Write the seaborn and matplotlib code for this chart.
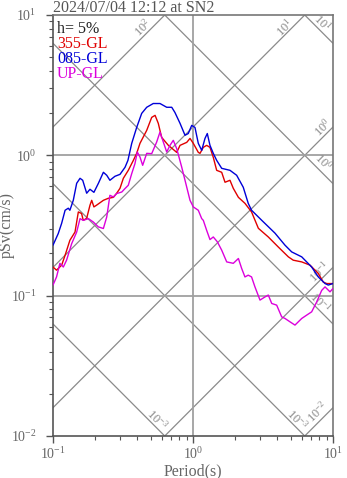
import numpy as np
import pandas as pd
import matplotlib
matplotlib.use("Agg")
import matplotlib.pyplot as plt
import seaborn as sns
from matplotlib.ticker import LogLocator, NullFormatter

# Pseudo-velocity response spectra (h = 5 %), period in s, pSv in cm/s
period_355 = [0.100, 0.106, 0.1153, 0.122, 0.132, 0.1436, 0.1517, 0.160, 0.1645, 0.174,
              0.1837, 0.189, 0.196, 0.2045, 0.229, 0.248, 0.270, 0.285, 0.301, 0.318,
              0.345, 0.375, 0.396, 0.418, 0.467, 0.507, 0.536, 0.565, 0.597, 0.667,
              0.765, 0.808, 0.902, 0.952, 1.005, 1.091, 1.122, 1.185, 1.252, 1.322,
              1.396, 1.476, 1.603, 1.693, 1.837, 1.94, 2.11, 2.35, 2.62, 2.93,
              3.45, 4.07, 4.80, 5.20, 5.98, 6.85, 7.85, 8.52, 9.02, 10.0]
psv_355 = [0.160, 0.152, 0.165, 0.194, 0.248, 0.284, 0.395, 0.385, 0.344, 0.356,
           0.441, 0.478, 0.429, 0.441, 0.478, 0.494, 0.502, 0.537, 0.582, 0.686,
           0.782, 0.921, 1.033, 1.217, 1.506, 1.864, 1.927, 1.69, 1.343, 1.178,
           1.05, 1.178, 1.237, 1.32, 1.217, 1.05, 1.033, 1.14, 1.178, 1.14,
           0.968, 0.782, 0.757, 0.643, 0.664, 0.582, 0.502, 0.455, 0.395, 0.302,
           0.262, 0.222, 0.189, 0.179, 0.174, 0.165, 0.144, 0.125, 0.122, 0.122]

period_085 = [0.100, 0.109, 0.1153, 0.122, 0.1286, 0.132, 0.1396, 0.1476, 0.156, 0.163,
              0.174, 0.1837, 0.196, 0.211, 0.229, 0.242, 0.255, 0.277, 0.301, 0.327,
              0.343, 0.365, 0.396, 0.430, 0.467, 0.520, 0.581, 0.649, 0.705, 0.743,
              0.808, 0.877, 0.925, 0.979, 1.033, 1.091, 1.154, 1.218, 1.265, 1.322,
              1.396, 1.476, 1.603, 1.837, 2.05, 2.286, 2.48, 2.62, 3.10, 3.85,
              4.54, 5.07, 5.98, 7.04, 7.85, 8.77, 9.25, 10.0]
psv_085 = [0.229, 0.277, 0.328, 0.406, 0.420, 0.406, 0.478, 0.632, 0.686, 0.664,
           0.537, 0.573, 0.545, 0.632, 0.757, 0.721, 0.664, 0.709, 0.732, 0.822,
           0.921, 1.217, 1.58, 1.99, 2.20, 2.34, 2.34, 2.20, 2.20, 2.02,
           1.69, 1.39, 1.43, 1.635, 1.58, 1.217, 1.085, 1.32, 1.43, 1.178,
           1.033, 0.921, 0.808, 0.782, 0.721, 0.592, 0.455, 0.406, 0.344, 0.279,
           0.229, 0.205, 0.189, 0.160, 0.136, 0.122, 0.119, 0.122]

period_up = [0.100, 0.106, 0.112, 0.1185, 0.125, 0.136, 0.1476, 0.156, 0.1645, 0.179,
             0.194, 0.211, 0.229, 0.242, 0.248, 0.255, 0.270, 0.285, 0.310, 0.327,
             0.345, 0.365, 0.385, 0.400, 0.418, 0.437, 0.467, 0.507, 0.550, 0.581,
             0.614, 0.649, 0.685, 0.723, 0.765, 0.830, 0.877, 0.952, 1.005, 1.091,
             1.154, 1.185, 1.252, 1.322, 1.396, 1.492, 1.603, 1.741, 1.94, 2.11,
             2.228, 2.35, 2.48, 2.62, 2.77, 3.01, 3.27, 3.45, 3.65, 3.96,
             4.30, 4.54, 4.93, 5.35, 5.98, 6.49, 7.04, 7.65, 8.30, 8.77,
             9.52, 10.0]
psv_up = [0.119, 0.136, 0.170, 0.160, 0.179, 0.235, 0.284, 0.354, 0.344, 0.354,
          0.335, 0.309, 0.301, 0.364, 0.429, 0.519, 0.505, 0.534, 0.548, 0.580,
          0.612, 0.741, 0.873, 1.056, 0.973, 0.849, 1.033, 1.028, 1.243, 1.465,
          1.243, 1.056, 1.178, 1.279, 1.116, 0.826, 0.664, 0.478, 0.429, 0.406,
          0.354, 0.344, 0.292, 0.251, 0.262, 0.242, 0.211, 0.174, 0.170, 0.184,
          0.156, 0.136, 0.140, 0.136, 0.1155, 0.093, 0.098, 0.101, 0.088, 0.0856,
          0.0706, 0.0688, 0.0651, 0.0617, 0.0688, 0.0727, 0.0767, 0.0903, 0.109, 0.1155,
          0.1065, 0.1125]

components = ["355-GL", "085-GL", "UP-GL"]
comp_colors = ["#e00000", "#0000d8", "#dc00dc"]

# Tripartite guide lines: acceleration (cm/s^2) and displacement (cm)
sa_levels = [1e-2, 1e-1, 1e0, 1e1, 1e2]
sd_levels = [1e-3, 1e-2, 1e-1, 1e0, 1e1]

# Guide-line labels: (text, period, pSv, rotation)
guide_labels = [
    (r"$\mathdefault{10^{2}}$", 0.44, 8.15, 45),
    (r"$\mathdefault{10^{1}}$", 4.54, 8.15, 45),
    (r"$\mathdefault{10^{1}}$", 8.34, 8.85, -45),
    (r"$\mathdefault{10^{0}}$", 8.5, 1.58, 45),
    (r"$\mathdefault{10^{0}}$", 8.5, 0.892, -45),
    (r"$\mathdefault{10^{-1}}$", 8.07, 0.147, 45),
    (r"$\mathdefault{10^{-1}}$", 8.07, 0.090, -45),
    (r"$\mathdefault{10^{-3}}$", 0.553, 0.013, -45),
    (r"$\mathdefault{10^{-3}}$", 5.53, 0.013, -45),
    (r"$\mathdefault{10^{-2}}$", 7.81, 0.0148, 45),
]

sns.set_theme(style="white")
plt.rcParams["font.family"] = ["Liberation Serif", "DejaVu Serif"]
plt.rcParams["mathtext.fontset"] = "custom"
plt.rcParams["mathtext.rm"] = "Liberation Serif"
plt.rcParams["mathtext.it"] = "Liberation Serif:italic"
plt.rcParams["mathtext.bf"] = "Liberation Serif:bold"

W, H = 347, 478
fig = plt.figure(figsize=(W / 100, H / 100), dpi=100)
ax = fig.add_axes([53 / W, 42 / H, 280 / W, 421 / H])
ax.set_xscale("log")
ax.set_yscale("log")
ax.set_xlim(0.1, 10)
ax.set_ylim(0.01, 10)

guide_color = "#8a8a8a"
tt = np.array([0.1, 10.0])
for sa in sa_levels:
    ax.plot(tt, sa * tt / (2 * np.pi), color=guide_color, lw=0.9, zorder=1)
for sd in sd_levels:
    ax.plot(tt, 2 * np.pi * sd / tt, color=guide_color, lw=0.9, zorder=1)

# Main grid lines
for yv in [1.0, 0.1]:
    ax.axhline(yv, color="#a0a0a0", lw=1.3, zorder=1)
ax.axvline(1.0, color="#a0a0a0", lw=1.3, zorder=1)

for txt, tx, ty, rot in guide_labels:
    ax.text(tx, ty, txt, rotation=rot, ha="center", va="center",
            fontsize=9, color="#888888", zorder=2)

frames = [
    pd.DataFrame({"period": period_355, "psv": psv_355, "comp": components[0]}),
    pd.DataFrame({"period": period_085, "psv": psv_085, "comp": components[1]}),
    pd.DataFrame({"period": period_up, "psv": psv_up, "comp": components[2]}),
]
for df, col in zip(frames, comp_colors):
    sns.lineplot(data=df, x="period", y="psv", color=col, lw=1.0,
                 estimator=None, sort=False, ax=ax, zorder=3, legend=False)

# Component labels
ax.text(0.014, 0.966, "h= 5%", transform=ax.transAxes, fontsize=11.5,
        color="#222222", va="center", ha="left")
for i, (name, col) in enumerate(zip(components, comp_colors)):
    ax.text(0.014, 0.930 - 0.0355 * i, name, transform=ax.transAxes,
            fontsize=11.5, color=col, va="center", ha="left")

for side in ["left", "bottom", "top", "right"]:
    ax.spines[side].set_visible(True)
    ax.spines[side].set_color("#777777")
    ax.spines[side].set_linewidth(1.2)
ax.spines["left"].set_color("#555555")
ax.spines["bottom"].set_color("#555555")

ax.xaxis.set_major_locator(LogLocator(base=10, numticks=10))
ax.yaxis.set_major_locator(LogLocator(base=10, numticks=10))
ax.xaxis.set_minor_locator(LogLocator(base=10, subs=np.arange(2, 10), numticks=10))
ax.yaxis.set_minor_locator(LogLocator(base=10, subs=np.arange(2, 10), numticks=10))
ax.xaxis.set_minor_formatter(NullFormatter())
ax.yaxis.set_minor_formatter(NullFormatter())
ax.tick_params(axis="both", which="major", direction="out", length=5, width=1.0,
               color="#555555", labelcolor="#666666", labelsize=10)
ax.tick_params(axis="both", which="minor", direction="out", length=3, width=0.8,
               color="#555555")
ax.tick_params(axis="y", which="major", pad=7)
ax.tick_params(axis="x", which="major", pad=2)
ax.tick_params(left=True, bottom=True, which="both")

ax.set_xlabel("Period(s)", fontsize=11.5, color="#666666", labelpad=1)
ax.set_ylabel("pSv(cm/s)", fontsize=11.5, color="#666666")
ax.yaxis.set_label_coords(-0.135, 0.5)

fig.text(53 / W, 1.0, "2024/07/04 12:12 at SN2", fontsize=11.5, color="#555555",
         ha="left", va="top")

fig.savefig("out.png", dpi=100)
